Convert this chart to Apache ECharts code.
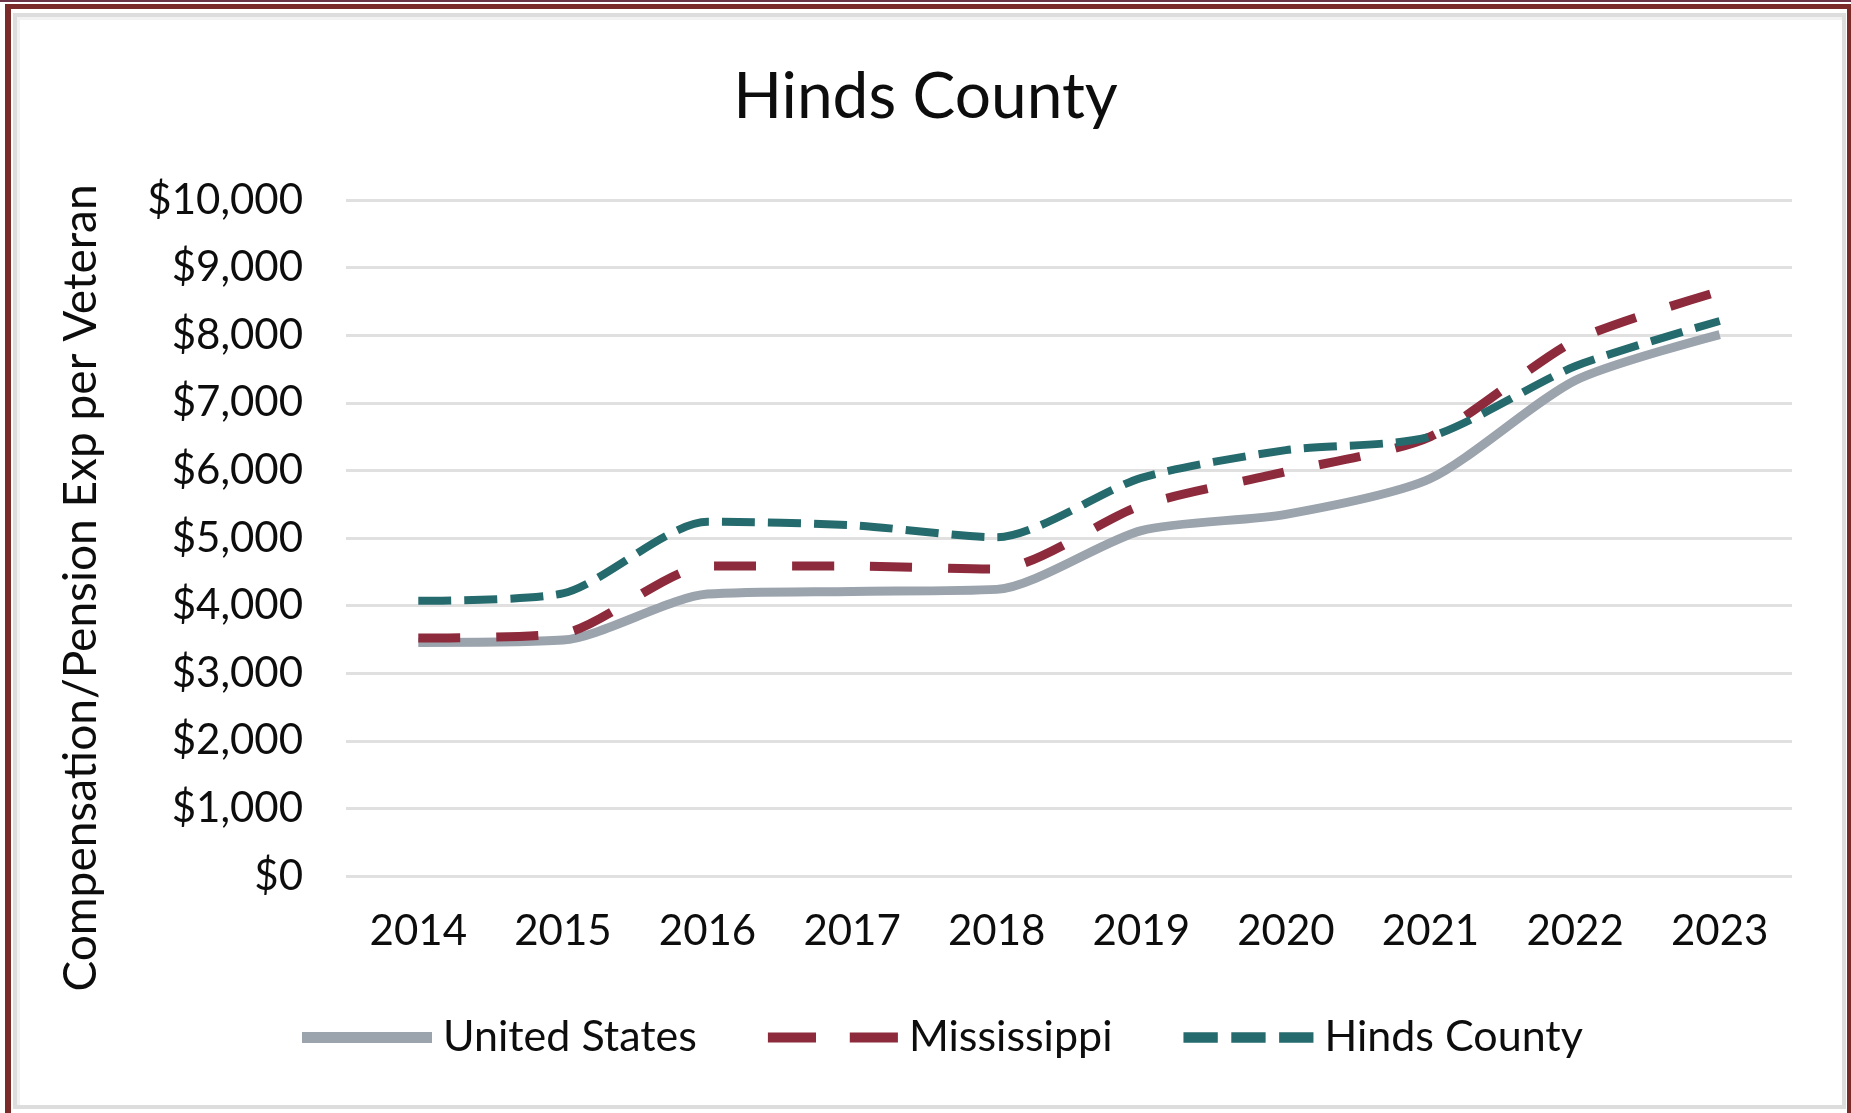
<!DOCTYPE html>
<html>
<head>
<meta charset="utf-8">
<title>Hinds County</title>
<script src="https://cdn.jsdelivr.net/npm/echarts@6/dist/echarts.min.js"></script>
<style>
  body {
    margin: 0;
    width: 1851px;
    height: 1113px;
    overflow: hidden;
    position: relative;
    background: #fff;
  }
  .top-line {
    position: absolute;
    left: 0;
    top: 0;
    width: 1851px;
    height: 2px;
    background: #6d3346;
  }
  .outer-frame {
    position: absolute;
    left: 5px;
    top: 4px;
    width: 1846px;
    height: 1130px;
    box-sizing: border-box;
    border-top: 5px solid #7a2b29;
    border-left: 6px solid #7a2b29;
    border-right: 4px solid #7a2b29;
  }
  .inner-frame {
    position: absolute;
    left: 13px;
    top: 13px;
    width: 1833px;
    height: 1096px;
    box-sizing: border-box;
    border: 4px solid #dddddd;
    box-shadow: inset 3px 3px 0 #f2f2f2;
  }
  #chart {
    position: absolute;
    left: 0;
    top: 0;
    width: 1851px;
    height: 1113px;
  }
</style>
</head>
<body>
<div class="top-line"></div>
<div class="outer-frame"></div>
<div class="inner-frame"></div>
<div id="chart"></div>

<script>
// values
const years = ['2014', '2015', '2016', '2017', '2018', '2019', '2020', '2021', '2022', '2023'];
const unitedStates = [3455, 3490, 4170, 4210, 4240, 5110, 5350, 5880, 7330, 8010];
const mississippi = [3520, 3590, 4585, 4585, 4540, 5480, 5980, 6500, 7920, 8650];
const hindsCounty = [4070, 4180, 5240, 5190, 5010, 5890, 6300, 6500, 7540, 8210];

const font = 'Lato, "Open Sans", sans-serif';
const textColor = '#0d0d0d';

// legend swatches: solid bar, two long dashes, three short dashes
const msIcon = 'path://M0,0h47v10h-47zM80,0h47v10h-47z';
const hindsIcon = 'path://M0,0h33v10h-33zM46,0h33v10h-33zM92,0h33v10h-33z';

const chart = echarts.init(document.getElementById('chart'), null, { renderer: 'canvas' });

function money(v) {
  return '$' + v.toLocaleString('en-US');
}

chart.setOption({
  animation: false,
  backgroundColor: 'transparent',
  title: {
    text: 'Hinds County',
    left: 'center',
    top: 60,
    textStyle: { fontFamily: font, fontSize: 64, fontWeight: 'normal', color: textColor },
  },
  graphic: [
    {
      type: 'text',
      x: 81,
      y: 588,
      rotation: Math.PI / 2,
      style: {
        text: 'Compensation/Pension Exp per Veteran',
        fontFamily: font,
        fontSize: 46,
        fill: textColor,
        align: 'center',
        verticalAlign: 'middle',
      },
    },
  ],
  grid: { left: 346, right: 59, top: 200, bottom: 237 },
  legend: {
    left: 297,
    top: 1011,
    itemWidth: 130,
    itemHeight: 11,
    itemGap: 71,
    textStyle: { fontFamily: font, fontSize: 43, color: textColor, padding: [0, 0, 0, 6] },
    data: [
      { name: 'United States', icon: 'rect' },
      { name: 'Mississippi', icon: msIcon },
      { name: 'Hinds County', icon: hindsIcon },
    ],
  },
  xAxis: {
    type: 'category',
    data: years,
    boundaryGap: true,
    axisLine: { show: false },
    axisTick: { show: false },
    axisLabel: { fontFamily: font, fontSize: 42, color: textColor, margin: 34 },
  },
  yAxis: {
    type: 'value',
    min: 0,
    max: 10000,
    interval: 1000,
    axisLabel: { fontFamily: font, fontSize: 42, color: textColor, margin: 43, formatter: money },
    splitLine: { lineStyle: { color: '#e0e0e0', width: 3 } },
  },
  series: [
    {
      name: 'United States',
      type: 'line',
      data: unitedStates,
      smooth: 0.25,
      symbol: 'none',
      itemStyle: { color: '#9ba3ad' },
      lineStyle: { color: '#9ba3ad', width: 9 },
    },
    {
      name: 'Mississippi',
      type: 'line',
      data: mississippi,
      smooth: 0.25,
      symbol: 'none',
      itemStyle: { color: '#8d2a3c' },
      lineStyle: { color: '#8d2a3c', width: 9, type: [42, 36] },
    },
    {
      name: 'Hinds County',
      type: 'line',
      data: hindsCounty,
      smooth: 0.25,
      symbol: 'none',
      itemStyle: { color: '#256a6d' },
      lineStyle: { color: '#256a6d', width: 8, type: [33, 13] },
    },
  ],
});
</script>
</body>
</html>
